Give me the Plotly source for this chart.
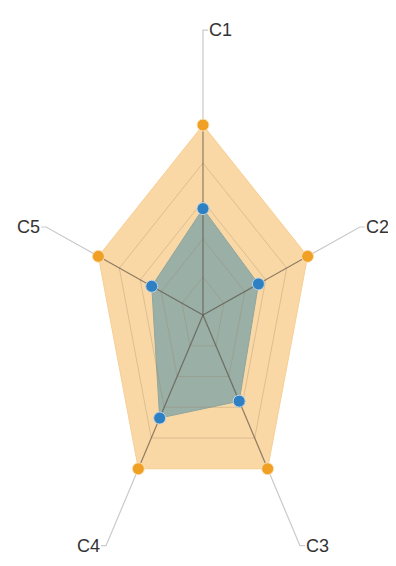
import math
import plotly.graph_objects as go

# chart data
categories = ["C1", "C2", "C3", "C4", "C5"]
series_outer = [5, 5, 5, 5, 5]
series_inner = [2.8, 2.65, 2.8, 3.35, 2.45]
ring_levels = [1, 2, 3, 4, 5]
r_max = 5

# angle of each axis, clockwise from the top
angles = [90 - i * 360 / len(categories) for i in range(len(categories))]


def to_xy(values):
    """Project radar values onto the (stretched) cartesian plane."""
    xs = [v / r_max * math.cos(math.radians(a)) for v, a in zip(values, angles)]
    ys = [v / r_max * math.sin(math.radians(a)) for v, a in zip(values, angles)]
    return xs + xs[:1], ys + ys[:1]


fig = go.Figure()

# orange series (filled)
ox, oy = to_xy(series_outer)
fig.add_trace(go.Scatter(x=ox, y=oy, mode="lines", fill="toself",
                         fillcolor="#FAD8A6", line=dict(color="#F7CE92", width=1),
                         hoverinfo="skip"))

# blue series (filled)
bx, by = to_xy(series_inner)
fig.add_trace(go.Scatter(x=bx, y=by, mode="lines", fill="toself",
                         fillcolor="#9AAFA5", line=dict(color="#91A69C", width=1),
                         hoverinfo="skip"))

# grid rings
for lvl in ring_levels[:-1]:
    gx, gy = to_xy([lvl] * len(categories))
    fig.add_trace(go.Scatter(x=gx, y=gy, mode="lines",
                             line=dict(color="rgba(150,130,100,0.3)", width=1),
                             hoverinfo="skip"))

# spokes and leader lines
lead_r = 1.5
stub = 0.045
for cat, a in zip(categories, angles):
    cx, cy = math.cos(math.radians(a)), math.sin(math.radians(a))
    fig.add_trace(go.Scatter(x=[0, cx], y=[0, cy], mode="lines",
                             line=dict(color="rgba(85,75,65,0.65)", width=1.2),
                             hoverinfo="skip"))
    ex, ey = lead_r * cx, lead_r * cy
    side = 1 if cx >= -0.01 else -1
    fig.add_trace(go.Scatter(x=[cx, ex, ex + side * stub], y=[cy, ey, ey], mode="lines",
                             line=dict(color="#CACACA", width=1.2), hoverinfo="skip"))
    fig.add_annotation(x=ex + side * (stub + 0.004), y=ey, text=cat, showarrow=False,
                       xanchor="left" if side > 0 else "right", yanchor="middle",
                       borderpad=0,
                       font=dict(size=18, color="#333333",
                                 family="Liberation Sans, Arial"))

# markers
fig.add_trace(go.Scatter(x=ox[:-1], y=oy[:-1], mode="markers",
                         marker=dict(color="#F0A024", size=12,
                                     line=dict(color="#FBE3BC", width=1)),
                         hoverinfo="skip"))
fig.add_trace(go.Scatter(x=bx[:-1], y=by[:-1], mode="markers",
                         marker=dict(color="#2F80C2", size=12,
                                     line=dict(color="#B9D3E6", width=1)),
                         hoverinfo="skip"))

# page body has an 8px margin, so keep the figure inside the window
fig.update_layout(
    width=388, height=548,
    margin=dict(l=0, r=0, t=0, b=0),
    paper_bgcolor="white", plot_bgcolor="white",
    showlegend=False,
    xaxis=dict(range=[-1.773, 1.755], visible=False, fixedrange=True),
    yaxis=dict(range=[-1.268, 1.616], visible=False, fixedrange=True),
)

fig.write_html("out.html")
